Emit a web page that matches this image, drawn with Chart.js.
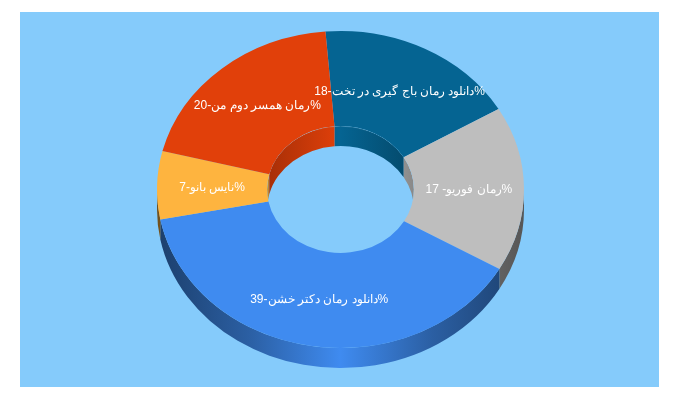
<!DOCTYPE html>
<html>
<head>
<meta charset="utf-8">
<style>
    html, body { margin: 0; padding: 0; background: #fff; }
    #wrap { position: absolute; left: 20px; top: 12px; width: 639px; height: 375px; overflow: hidden; }
    #donat { display: block; background: #85cbfb; }
</style>
<script src="https://cdn.jsdelivr.net/npm/chart.js@4/dist/chart.umd.min.js"></script>
</head>
<body>
<div id="wrap"><canvas id="donat" width="640" height="375"></canvas></div>
<script>
// Data chart
const labels = [
    '%دانلود رمان باج گیری در تخت-18',
    '%رمان فوریو- 17',
    '%دانلود رمان دکتر خشن-39',
    '%نایس بانو-7',
    '%رمان همسر دوم من-20'
];
const values = [18, 17, 39, 7, 20];
const colors = ['#056492', '#bebebe', '#3f8bf0', '#feb43f', '#e1400a'];

// Tampilan 3D
const squash = 0.864;
const depth = 20;

function shade(hex, f) {
    const n = parseInt(hex.slice(1), 16);
    const r = Math.round((n >> 16) * f);
    const g = Math.round(((n >> 8) & 255) * f);
    const b = Math.round((n & 255) * f);
    return `rgb(${r},${g},${b})`;
}

// Potongan sudut a..b dengan rentang lo..hi (dicoba juga geser 2 pi)
function overlaps(a, b, lo, hi) {
    const out = [];
    [-2, 0, 2].forEach(function (k) {
        const s = Math.max(a, lo + k * Math.PI);
        const e = Math.min(b, hi + k * Math.PI);
        if (e > s) out.push([s, e]);
    });
    return out;
}

function wall(ctx, x, y, r, s, e) {
    ctx.beginPath();
    ctx.ellipse(x, y, r, r * squash, 0, s, e);
    ctx.ellipse(x, y + depth, r, r * squash, 0, e, s, true);
    ctx.closePath();
    ctx.fill();
}

const donut3d = {
    id: 'donut3d',
    beforeDatasetsDraw(chart) {
        const ctx = chart.ctx;
        const arcs = chart.getDatasetMeta(0).data;

        // Dinding luar (setengah bawah)
        arcs.forEach(function (arc, i) {
            const p = arc.getProps(['x', 'y', 'startAngle', 'endAngle', 'outerRadius']);
            const g = ctx.createLinearGradient(p.x - p.outerRadius, 0, p.x + p.outerRadius, 0);
            g.addColorStop(0, shade(colors[i], 0.45));
            g.addColorStop(0.25, shade(colors[i], 0.68));
            g.addColorStop(0.5, shade(colors[i], 1));
            g.addColorStop(0.75, shade(colors[i], 0.68));
            g.addColorStop(1, shade(colors[i], 0.45));
            ctx.fillStyle = g;
            overlaps(p.startAngle, p.endAngle, 0, Math.PI).forEach(function (o) {
                wall(ctx, p.x, p.y, p.outerRadius, o[0], o[1]);
            });
        });

        // Dinding dalam (setengah atas, hanya di dalam lubang)
        ctx.save();
        const c = arcs[0].getProps(['x', 'y', 'innerRadius']);
        ctx.beginPath();
        ctx.ellipse(c.x, c.y, c.innerRadius, c.innerRadius * squash, 0, 0, Math.PI * 2);
        ctx.clip();
        arcs.forEach(function (arc, i) {
            const p = arc.getProps(['x', 'y', 'startAngle', 'endAngle', 'innerRadius']);
            const g = ctx.createLinearGradient(p.x - p.innerRadius, 0, p.x + p.innerRadius, 0);
            g.addColorStop(0, shade(colors[i], 0.74));
            g.addColorStop(0.5, shade(colors[i], 1));
            g.addColorStop(1, shade(colors[i], 0.72));
            ctx.fillStyle = g;
            overlaps(p.startAngle, p.endAngle, Math.PI, Math.PI * 2).forEach(function (o) {
                wall(ctx, p.x, p.y, p.innerRadius, o[0], o[1]);
            });
        });
        ctx.restore();

        // Garis tipis di tepi atas dinding dalam
        ctx.strokeStyle = 'rgba(255,255,255,0.15)';
        ctx.lineWidth = 1;
        ctx.beginPath();
        ctx.ellipse(c.x, c.y, c.innerRadius, c.innerRadius * squash, 0, Math.PI * 1.25, Math.PI * 1.75);
        ctx.stroke();

        // Pipihkan donat
        const cy = arcs[0].y;
        ctx.save();
        ctx.translate(0, cy);
        ctx.scale(1, squash);
        ctx.translate(0, -cy);
    },
    afterDatasetsDraw(chart) {
        const ctx = chart.ctx;
        ctx.restore();

        // Label di tengah tiap potongan
        const arcs = chart.getDatasetMeta(0).data;
        ctx.save();
        ctx.font = '12px "Liberation Sans"';
        ctx.fillStyle = '#fff';
        ctx.textAlign = 'center';
        ctx.textBaseline = 'middle';
        ctx.direction = 'rtl';
        arcs.forEach(function (arc, i) {
            const pos = arc.getCenterPoint();
            const tx = pos.x;
            const ty = arc.y + (pos.y - arc.y) * squash + 1;
            ctx.fillText(labels[i], tx, ty);
        });
        ctx.restore();
    }
};

new Chart(document.getElementById('donat').getContext('2d'), {
    type: 'doughnut',
    data: {
        labels: labels,
        datasets: [{
            data: values,
            backgroundColor: colors,
            borderWidth: 0,
            clip: false
        }]
    },
    options: {
        responsive: false,
        animation: false,
        devicePixelRatio: 1,
        radius: 183.5,
        cutout: '40%',
        rotation: -4.7,
        layout: { padding: { bottom: 20, left: 1 } },
        plugins: {
            legend: { display: false },
            tooltip: { enabled: false }
        }
    },
    plugins: [donut3d]
});
</script>
</body>
</html>
